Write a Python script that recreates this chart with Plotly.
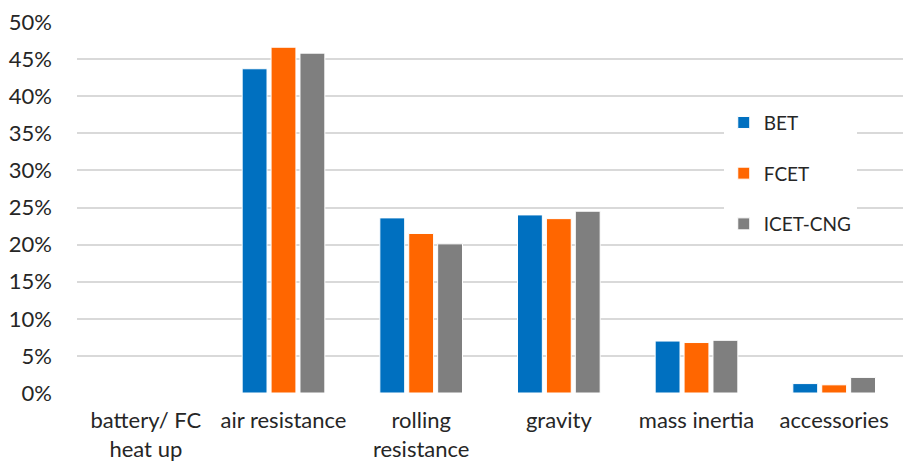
import plotly.graph_objects as go

categories = ["battery/ FC<br>heat up", "air resistance", "rolling<br>resistance",
              "gravity", "mass inertia", "accessories"]
bet = [0.0, 0.437, 0.236, 0.240, 0.070, 0.0127]
fcet = [0.0, 0.466, 0.215, 0.235, 0.068, 0.011]
icet_cng = [0.0, 0.458, 0.201, 0.245, 0.071, 0.021]

series = [("BET", bet, "#0070C0"),
          ("FCET", fcet, "#FF6600"),
          ("ICET-CNG", icet_cng, "#7F7F7F")]

tick_vals = [i * 0.05 for i in range(11)]
tick_text = [f"{i * 5}%" for i in range(11)]

font_family = "Lato, 'Open Sans', sans-serif"

fig = go.Figure()
for name, vals, color in series:
    fig.add_trace(go.Bar(
        x=categories, y=vals, name=name, legendgroup=name,
        marker=dict(color=color, line=dict(color="white", width=1)),
    ))

fig.update_layout(
    width=903, height=464,
    margin=dict(l=77, r=0, t=22, b=71),
    paper_bgcolor="white", plot_bgcolor="white",
    font=dict(family=font_family, size=22, color="#262626"),
    barmode="group", bargap=0.37, bargroupgap=0.14,
    showlegend=True,
    legend=dict(
        x=0.783, y=0.78, xanchor="left", yanchor="top",
        bgcolor="white", traceorder="grouped", tracegroupgap=23,
        font=dict(size=19, color="#262626"),
    ),
)
fig.update_xaxes(showgrid=False, showline=False, ticks="", automargin=False,
                 tickfont=dict(size=22), tickangle=0, ticklabelstandoff=12)
fig.update_yaxes(range=[0, 0.5], tickvals=tick_vals, ticktext=tick_text,
                 showgrid=True, gridcolor="#D9D9D9", gridwidth=1.5,
                 zeroline=False, showline=False, ticks="", automargin=False,
                 ticklabelstandoff=24, tickfont=dict(size=22))

fig.write_html("out.html")
